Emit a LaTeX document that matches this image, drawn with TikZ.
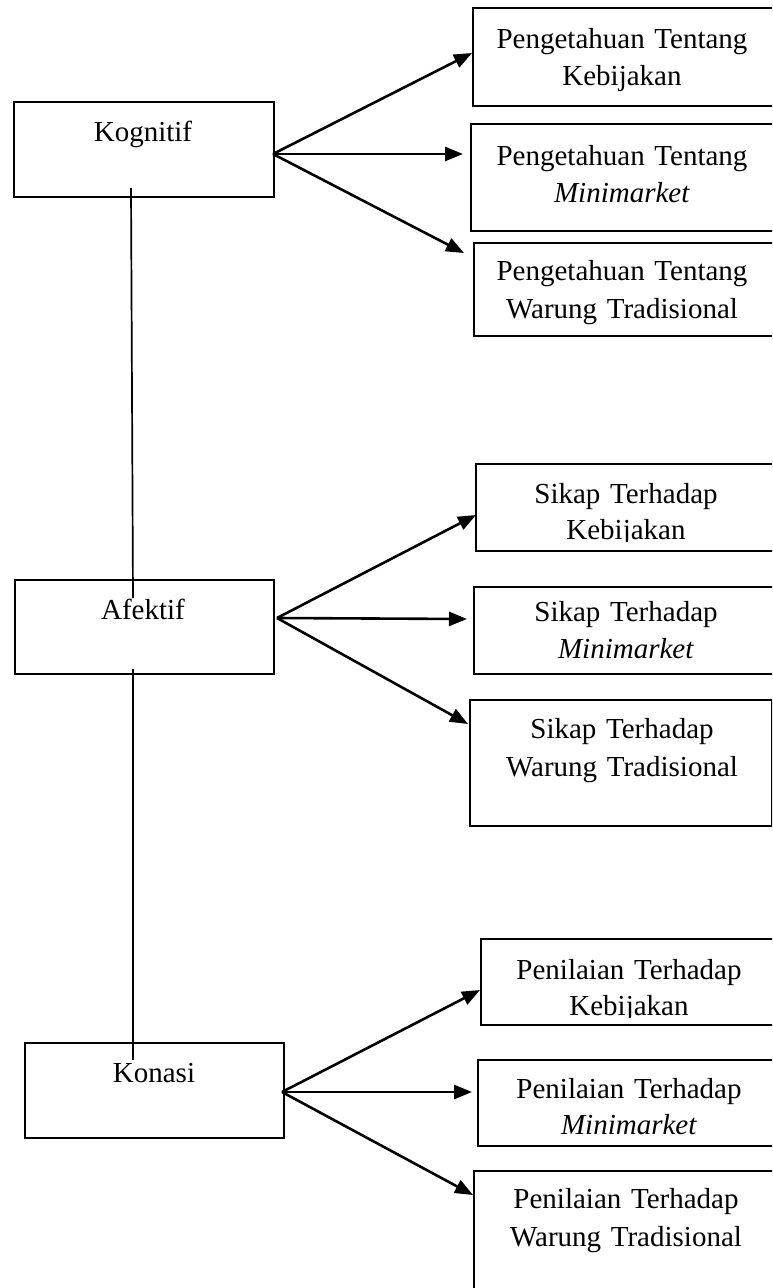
\documentclass[tikz,border=0pt]{standalone}
\usepackage{fontspec}
\setmainfont{Liberation Serif}
\usetikzlibrary{arrows.meta}
\begin{document}
\begin{tikzpicture}[x=1pt,y=-1pt,
  box/.style={draw, line width=1.7pt, inner sep=0pt, anchor=north west},
  conn/.style={line width=2.6pt, -{Triangle[length=18pt,width=14pt]}},
  vline/.style={line width=1.7pt},
  lbl/.style={inner sep=0pt, anchor=base, font=\fontsize{29}{35}\selectfont},
  rtxt/.style={inner sep=0pt, anchor=base, text width=300pt, align=center, font=\fontsize{29}{#1}\selectfont}]
\useasboundingbox (0,0) rectangle (772,1288);
\clip (0,0) rectangle (772,1288);

% left boxes
\node[box, minimum width=260pt, minimum height=95pt] (kog) at (13,101) {};
\node[box, minimum width=259pt, minimum height=94pt] (afe) at (14,579) {};
\node[box, minimum width=259pt, minimum height=95pt] (kon) at (24,1042) {};
\node[lbl] (kogt) at (143,141) {Kognitif};
\node[lbl] (afet) at (143,619) {Afektif};
\node[lbl] (kont) at (154,1082) {Konasi};

% right boxes, group 1
\node[box, minimum width=310pt, minimum height=98pt] (b1) at (472,7) {};
\node[box, minimum width=310pt, minimum height=107pt] (b2) at (470,123) {};
\node[box, minimum width=310pt, minimum height=93pt] (b3) at (473,242) {};
\node[rtxt=37] (b1t) at (622,48) {Pengetahuan Tentang\\Kebijakan};
\node[rtxt=37] (b2t) at (622,165) {Pengetahuan Tentang\\\textit{Minimarket}};
\node[rtxt=38] (b3t) at (622,280) {Pengetahuan Tentang\\Warung Tradisional};

% right boxes, group 2
\node[box, minimum width=310pt, minimum height=87pt] (s1) at (475,463) {};
\node[box, minimum width=310pt, minimum height=87pt] (s2) at (473,586) {};
\node[box, minimum width=302pt, minimum height=126pt] (s3) at (469,699) {};
\begin{scope}
\clip (475,463) rectangle (772,541);
\node[rtxt=36] (s1t) at (626,503) {Sikap Terhadap\\Kebijakan};
\end{scope}
\node[rtxt=37] (s2t) at (626,621) {Sikap Terhadap\\\textit{Minimarket}};
\node[rtxt=38] (s3t) at (622,738) {Sikap Terhadap\\Warung Tradisional};

% right boxes, group 3
\node[box, minimum width=310pt, minimum height=86pt] (p1) at (480,938) {};
\node[box, minimum width=310pt, minimum height=86pt] (p2) at (477,1059) {};
\node[box, minimum width=310pt, minimum height=140pt] (p3) at (473,1170) {};
\begin{scope}
\clip (480,938) rectangle (772,1017);
\node[rtxt=36] (p1t) at (629,979) {Penilaian Terhadap\\Kebijakan};
\end{scope}
\begin{scope}
\clip (477,1059) rectangle (772,1135);
\node[rtxt=36] (p2t) at (629,1098) {Penilaian Terhadap\\\textit{Minimarket}};
\end{scope}
\node[rtxt=38] (p3t) at (626,1208) {Penilaian Terhadap\\Warung Tradisional};

% vertical links
\coordinate (v1a) at (131,188);
\coordinate (v1b) at (133,598);
\coordinate (v2a) at (133,669);
\coordinate (v2b) at (133,1060);
\draw[vline] (v1a) -- (v1b);
\draw[vline] (v2a) -- (v2b);

% arrows
\coordinate (k0) at (273,154);
\coordinate (k1) at (472,53);
\coordinate (k2) at (463,154);
\coordinate (k3) at (464,253);
\draw[conn] (k0) -- (k1);
\draw[conn] (k0) -- (k2);
\draw[conn] (k0) -- (k3);

\coordinate (a0) at (277,618);
\coordinate (a1) at (476,515);
\coordinate (a2) at (467,619);
\coordinate (a3) at (468,724);
\draw[conn] (a0) -- (a1);
\draw[conn] (a0) -- (a2);
\draw[conn] (a0) -- (a3);

\coordinate (c0) at (282,1092);
\coordinate (c1) at (480,990);
\coordinate (c2) at (472,1092);
\coordinate (c3) at (473,1195);
\draw[conn] (c0) -- (c1);
\draw[conn] (c0) -- (c2);
\draw[conn] (c0) -- (c3);
\end{tikzpicture}
\end{document}
